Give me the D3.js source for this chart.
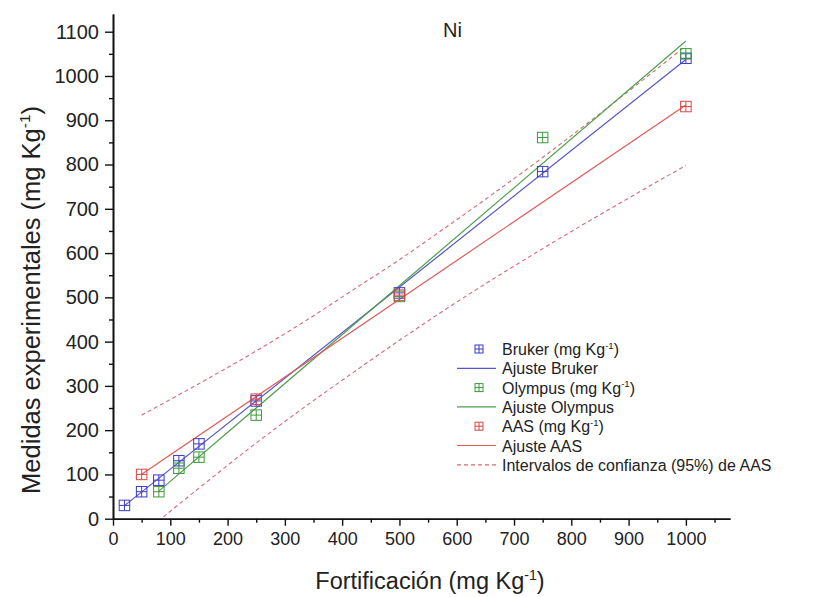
<!DOCTYPE html>
<html>
<head>
<meta charset="utf-8">
<script src="https://cdn.jsdelivr.net/npm/d3@7"></script>
<style>
  body { margin: 0; background: #fff; }
  text { font-family: "Liberation Sans", Arial, sans-serif; fill: #222; }
</style>
</head>
<body>
<svg id="chart" width="817" height="597"></svg>
<script>
// Ni: measured concentration vs. fortification level
const brukerX  = [20, 50, 80, 115, 150, 250, 500, 750, 1000];
const brukerY  = [30, 61, 87, 131, 169, 266, 510, 784, 1040];
const olympusX = [80, 115, 150, 250, 500, 750, 1000];
const olympusY = [61, 114, 139, 234, 502, 861, 1050];
const aasX     = [50, 250, 500, 1000];
const aasY     = [100, 270, 505, 931];

// 95% interval around the AAS fit
const bandX     = [50, 150, 250, 330, 430, 500, 570, 750, 920, 1000];
const bandUpper = [234, 305, 379, 442, 526, 585, 648, 816, 986, 1068];
const bandLower = [-36, 69, 171, 248, 340, 403, 464, 610, 739, 798];

const xTicks = [0, 100, 200, 300, 400, 500, 600, 700, 800, 900, 1000];
const yTicks = [0, 100, 200, 300, 400, 500, 600, 700, 800, 900, 1000, 1100];

const colors = { bruker: "#3b3bc8", olympus: "#3c9a3c", aas: "#dc4646" };
const lineColors = { bruker: "#5656c4", olympus: "#4c9f4c", aas: "#e05a5a" };
const bandColor = "#d86a78";

const svg = d3.select("#chart");
const x = d3.scaleLinear().domain([0, 1077]).range([113, 730]);
const y = d3.scaleLinear().domain([0, 1140]).range([518.7, 14]);

// clip to plot area
svg.append("defs").append("clipPath").attr("id", "plot")
  .append("rect").attr("x", x(0)).attr("y", y(1140))
  .attr("width", x(1077) - x(0)).attr("height", y(0) - y(1140));

// least-squares fit
function fit(xs, ys) {
  const mx = d3.mean(xs), my = d3.mean(ys);
  let sxy = 0, sxx = 0;
  xs.forEach((v, i) => { sxy += (v - mx) * (ys[i] - my); sxx += (v - mx) * (v - mx); });
  const b = sxy / sxx, a = my - b * mx;
  const x0 = d3.min(xs), x1 = d3.max(xs);
  return [[x0, a + b * x0], [x1, a + b * x1]];
}

const line = d3.line().x(d => x(d[0])).y(d => y(d[1]));
const g = svg.append("g").attr("clip-path", "url(#plot)");

// interval curves
[bandUpper, bandLower].forEach(arr => {
  g.append("path")
    .attr("d", d3.line().curve(d3.curveMonotoneX).x(d => x(d[0])).y(d => y(d[1]))(bandX.map((v, i) => [v, arr[i]])))
    .attr("fill", "none").attr("stroke", bandColor).attr("stroke-width", 1.1)
    .attr("stroke-dasharray", "4,3");
});

const series = [
  { key: "bruker", xs: brukerX, ys: brukerY },
  { key: "olympus", xs: olympusX, ys: olympusY },
  { key: "aas", xs: aasX, ys: aasY }
];

series.forEach(s => {
  g.append("path").attr("d", line(fit(s.xs, s.ys)))
    .attr("fill", "none").attr("stroke", lineColors[s.key]).attr("stroke-width", 1.2);
});

function marker(sel, cx, cy, size, color) {
  const h = size / 2;
  const m = sel.append("g").attr("transform", `translate(${cx},${cy})`)
    .attr("fill", "none").attr("stroke", color).attr("stroke-width", 1);
  m.append("rect").attr("x", -h).attr("y", -h).attr("width", size).attr("height", size);
  m.append("line").attr("x1", -h).attr("x2", h).attr("y1", 0).attr("y2", 0);
  m.append("line").attr("x1", 0).attr("x2", 0).attr("y1", -h).attr("y2", h);
}

series.forEach(s => {
  s.xs.forEach((v, i) => marker(svg, x(v), y(s.ys[i]), 10.5, colors[s.key]));
});

// axes
const fmt = d3.format("d");
const xAxis = svg.append("g").attr("transform", `translate(0,${y(0)})`)
  .call(d3.axisBottom(x).tickValues(xTicks).tickFormat(fmt).tickSize(7).tickSizeOuter(0).tickPadding(7));
svg.append("g").attr("transform", `translate(0,${y(0)})`)
  .call(d3.axisBottom(x).tickValues(d3.range(50, 1077, 100)).tickSize(4).tickFormat("").tickSizeOuter(0));
const yAxis = svg.append("g").attr("transform", `translate(${x(0)},0)`)
  .call(d3.axisLeft(y).tickValues(yTicks).tickFormat(fmt).tickSize(8).tickSizeOuter(0).tickPadding(6));
svg.append("g").attr("transform", `translate(${x(0)},0)`)
  .call(d3.axisLeft(y).tickValues(d3.range(50, 1140, 100)).tickSize(4).tickFormat("").tickSizeOuter(0));

svg.selectAll(".domain").attr("stroke", "#111").attr("stroke-width", 1.6);
svg.selectAll(".tick line").attr("stroke", "#111").attr("stroke-width", 1.4);
xAxis.selectAll("text").attr("font-size", 18).attr("fill", "#222")
  .attr("font-family", "'Liberation Sans', Arial, sans-serif");
yAxis.selectAll("text").attr("font-size", 20).attr("fill", "#222")
  .attr("font-family", "'Liberation Sans', Arial, sans-serif");

// titles
function withSup(t, base, size) {
  t.append("tspan").text(base);
  t.append("tspan").text("-1").attr("font-size", size * 0.6).attr("dy", -size * 0.4);
  t.append("tspan").text(")").attr("dy", size * 0.4);
}

const xt = svg.append("text").attr("x", 430).attr("y", 589).attr("text-anchor", "middle").attr("font-size", 23.5);
withSup(xt, "Fortificación (mg Kg", 23.5);

const yt = svg.append("text").attr("transform", `translate(40,300) rotate(-90)`)
  .attr("text-anchor", "middle").attr("font-size", 25.5);
withSup(yt, "Medidas experimentales (mg Kg", 25.5);

svg.append("text").attr("x", 443).attr("y", 37).attr("font-size", 20).text("Ni");

// legend
const legendItems = [
  { type: "marker", key: "bruker", label: "Bruker (mg Kg", sup: true },
  { type: "line", key: "bruker", label: "Ajuste Bruker" },
  { type: "marker", key: "olympus", label: "Olympus (mg Kg", sup: true },
  { type: "line", key: "olympus", label: "Ajuste Olympus" },
  { type: "marker", key: "aas", label: "AAS (mg Kg", sup: true },
  { type: "line", key: "aas", label: "Ajuste AAS" },
  { type: "dash", key: "aas", label: "Intervalos de confianza (95%) de AAS" }
];

legendItems.forEach((it, i) => {
  const ly = 349 + i * 19.3;
  if (it.type === "marker") {
    marker(svg, 479, ly, 8, colors[it.key]);
  } else {
    svg.append("line").attr("x1", 457).attr("x2", 496).attr("y1", ly).attr("y2", ly)
      .attr("stroke", it.type === "dash" ? bandColor : lineColors[it.key])
      .attr("stroke-width", 1.2)
      .attr("stroke-dasharray", it.type === "dash" ? "4,3" : null);
  }
  const t = svg.append("text").attr("x", 502).attr("y", ly + 6).attr("font-size", 16);
  if (it.sup) withSup(t, it.label, 16); else t.text(it.label);
});
</script>
</body>
</html>
